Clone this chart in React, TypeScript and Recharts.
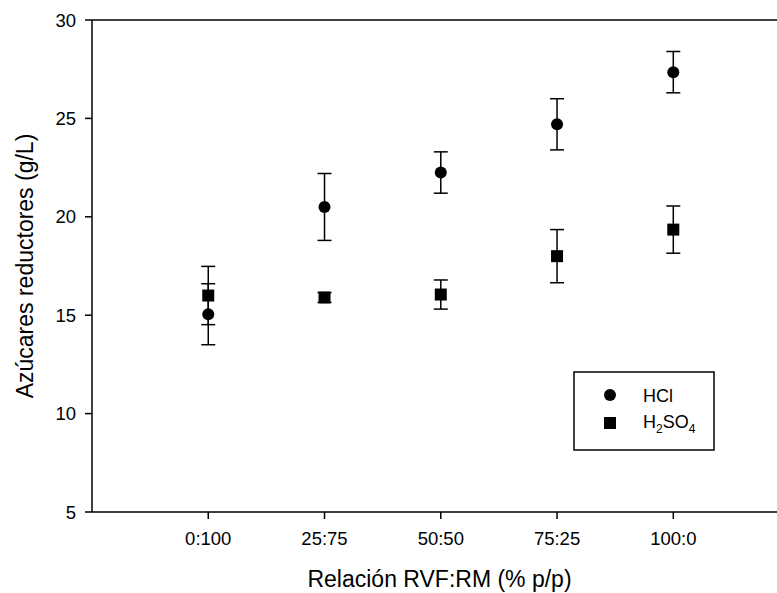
import React from 'react'
import {
  ScatterChart,
  Scatter,
  XAxis,
  YAxis,
  ErrorBar,
  ReferenceLine,
} from 'recharts'

// ratio labels on the x axis
const categories = ['0:100', '25:75', '50:50', '75:25', '100:0']

// reducing sugars (g/L)
const hclValues = [15.05, 20.5, 22.25, 24.7, 27.35]
const hclErrors = [1.55, 1.7, 1.05, 1.3, 1.05]
const h2so4Values = [16.0, 15.9, 16.05, 18.0, 19.35]
const h2so4Errors = [1.48, 0.25, 0.74, 1.35, 1.2]

const yTicks = [5, 10, 15, 20, 25, 30]
const xTicks = [1, 2, 3, 4, 5]

const hclData = categories.map((_, i) => ({ x: i + 1, y: hclValues[i], err: hclErrors[i] }))
const h2so4Data = categories.map((_, i) => ({ x: i + 1, y: h2so4Values[i], err: h2so4Errors[i] }))

const FONT = '"Liberation Sans", Arial, Helvetica, sans-serif'

const CircleDot = (props: any) => <circle cx={props.cx} cy={props.cy} r={6} fill="#000" />
const SquareDot = (props: any) => (
  <rect x={props.cx - 6} y={props.cy - 6} width={12} height={12} fill="#000" />
)

const YTitle = (props: any) => {
  const vb = props.viewBox || { x: 0, y: 20, width: 92, height: 492 }
  const x = vb.x + 33
  const y = vb.y + vb.height / 2
  return (
    <text
      x={x}
      y={y}
      transform={`rotate(-90, ${x}, ${y})`}
      textAnchor="middle"
      fontSize={23}
      fill="#000"
      fontFamily={FONT}
    >
      Azúcares reductores (g/L)
    </text>
  )
}

const XTitle = (props: any) => {
  const vb = props.viewBox || { x: 92, y: 512, width: 685, height: 81 }
  return (
    <text
      x={vb.x + vb.width / 2 + 5}
      y={vb.y + 75}
      textAnchor="middle"
      fontSize={23}
      fill="#000"
      fontFamily={FONT}
    >
      Relación RVF:RM (% p/p)
    </text>
  )
}

function LegendBox() {
  return (
    <svg
      width={142}
      height={80}
      style={{ position: 'absolute', left: 573, top: 371 }}
    >
      <rect x={1} y={1} width={140} height={78} fill="#fff" stroke="#000" strokeWidth={1.5} />
      <circle cx={37} cy={24} r={6} fill="#000" />
      <text x={70} y={31} fontSize={18} fontFamily={FONT} fill="#000">
        HCl
      </text>
      <rect x={31} y={46} width={12} height={12} fill="#000" />
      <text x={70} y={57} fontSize={18} fontFamily={FONT} fill="#000">
        H
        <tspan fontSize={12} dy={5}>2</tspan>
        <tspan dy={-5}>SO</tspan>
        <tspan fontSize={12} dy={5}>4</tspan>
      </text>
    </svg>
  )
}

export default function App() {
  return (
    <div style={{ position: 'absolute', left: 0, top: 0, width: 777, height: 593, background: '#fff', fontFamily: FONT }}>
      <ScatterChart width={777} height={593} margin={{ top: 20, right: 0, bottom: 0, left: 0 }}>
        <XAxis
          type="number"
          dataKey="x"
          domain={[0, 5.892]}
          ticks={xTicks}
          allowDataOverflow
          interval={0}
          tickFormatter={(v: number) => categories[v - 1]}
          height={81}
          tickSize={7}
          tickMargin={13}
          axisLine={{ stroke: '#000', strokeWidth: 1.5 }}
          tickLine={{ stroke: '#000', strokeWidth: 1.5 }}
          tick={{ fill: '#000', fontSize: 18.5, fontFamily: FONT }}
          label={<XTitle />}
        />
        <YAxis
          type="number"
          dataKey="y"
          domain={[5, 30]}
          ticks={yTicks}
          allowDataOverflow
          interval={0}
          width={92}
          tickSize={7}
          tickMargin={9}
          axisLine={{ stroke: '#000', strokeWidth: 1.5 }}
          tickLine={{ stroke: '#000', strokeWidth: 1.5 }}
          tick={{ fill: '#000', fontSize: 18.5, fontFamily: FONT }}
          label={<YTitle />}
        />
        <ReferenceLine y={30} stroke="#000" strokeWidth={1.5} />
        <Scatter name="HCl" data={hclData} shape={CircleDot} isAnimationActive={false}>
          <ErrorBar dataKey="err" direction="y" width={7} stroke="#000" strokeWidth={1.5} isAnimationActive={false} />
        </Scatter>
        <Scatter name="H2SO4" data={h2so4Data} shape={SquareDot} isAnimationActive={false}>
          <ErrorBar dataKey="err" direction="y" width={7} stroke="#000" strokeWidth={1.5} isAnimationActive={false} />
        </Scatter>
      </ScatterChart>
      <LegendBox />
    </div>
  )
}
